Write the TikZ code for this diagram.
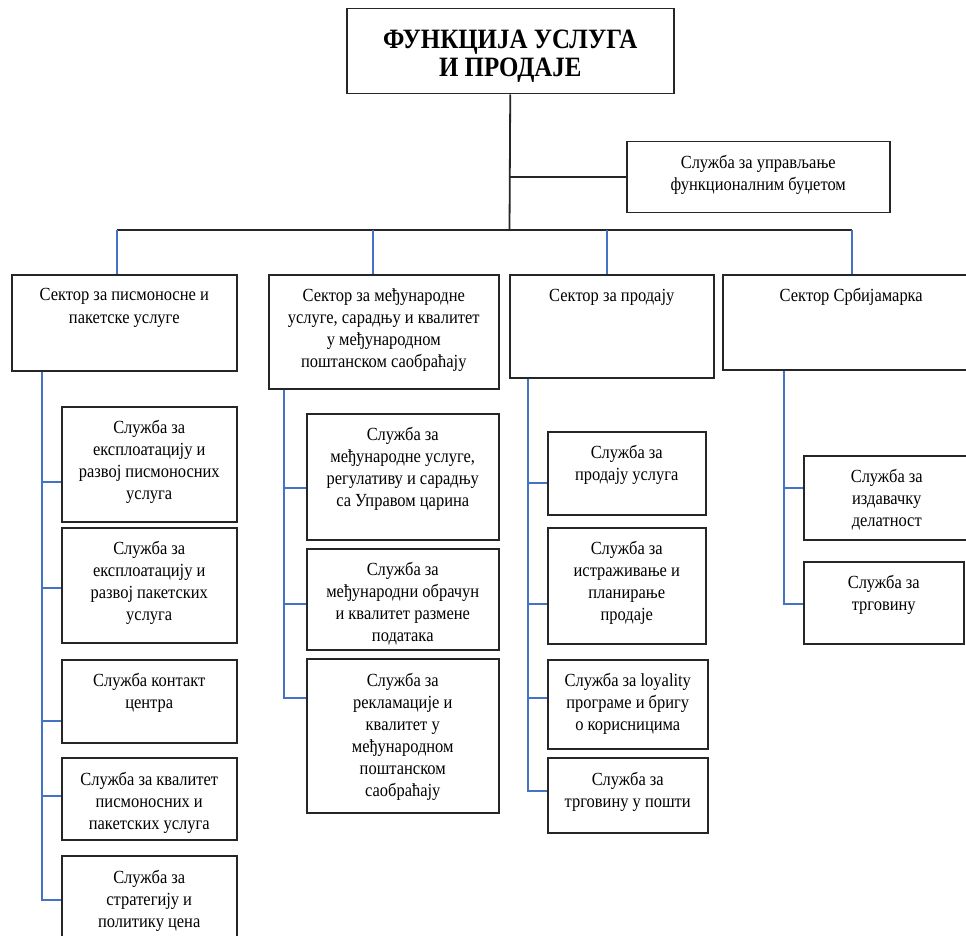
\documentclass[tikz,border=0pt]{standalone}
\usepackage{fontspec}
\setmainfont{Liberation Serif}[FakeStretch=0.89]
\usepackage{xcolor}
\usetikzlibrary{positioning}
\definecolor{linkblue}{HTML}{4472C4}
\newcommand{\cell}[4][14pt]{\parbox[c][#3][t]{#2}{\centering\vspace{#1}#4}}

\begin{document}
\begin{tikzpicture}[x=1pt, y=-1pt,
  box/.style={draw=black!85, line width=1.5pt, anchor=north west, inner sep=0pt,
              font=\fontsize{18.5}{22}\selectfont},
  head/.style={box, font=\fontsize{28}{28}\selectfont\bfseries},
  conn/.style={draw=black!85, line width=1.8pt},
  link/.style={draw=linkblue, line width=1.5pt}
]
  \useasboundingbox (0,0) rectangle (966,936);

  % top of the chart
  \node[head] (title) at (346,8) {\cell[21pt]{327pt}{85pt}{ФУНКЦИЈА УСЛУГА\\И ПРОДАЈЕ}};
  \node[box] (budget) at (626,141) {\cell{263pt}{71pt}{Служба за управљање\\функционалним буџетом}};

  % sectors
  \node[box] (s1) at (11,274)  {\cell{225pt}{96pt}{Сектор за писмоносне и\\пакетске услуге}};
  \node[box] (s2) at (268,274) {\cell{230pt}{114pt}{Сектор за међународне\\услуге, сарадњу и квалитет\\у међународном\\поштанском саобраћају}};
  \node[box] (s3) at (509,274) {\cell{204pt}{103pt}{Сектор за продају}};
  \node[box] (s4) at (722,274) {\cell{257pt}{95pt}{Сектор Србијамарка}};

  % services
  \node[box] (a) at (61,406) {\cell{175pt}{115pt}{Служба за\\експлоатацију и\\развој писмоносних\\услуга}};
  \node[box] (b) at (61,527) {\cell{175pt}{115pt}{Служба за\\експлоатацију и\\развој пакетских\\услуга}};
  \node[box] (c) at (61,659) {\cell{175pt}{83pt}{Служба контакт\\центра}};
  \node[box] (d) at (61,757) {\cell{175pt}{82pt}{Служба за квалитет\\писмоносних и\\пакетских услуга}};
  \node[box] (e) at (61,855) {\cell{175pt}{100pt}{Служба за\\стратегију и\\политику цена}};

  \node[box] (f) at (306,413) {\cell{192pt}{126pt}{Служба за\\међународне услуге,\\регулативу и сарадњу\\са Управом царина}};
  \node[box] (g) at (306,548) {\cell{192pt}{101pt}{Служба за\\међународни обрачун\\и квалитет размене\\података}};
  \node[box] (h) at (306,658) {\cell{192pt}{154pt}{Служба за\\рекламације и\\квалитет у\\међународном\\поштанском\\саобраћају}};

  \node[box] (i) at (547,431) {\cell{158pt}{83pt}{Служба за\\продају услуга}};
  \node[box] (j) at (547,527) {\cell{158pt}{116pt}{Служба за\\истраживање и\\планирање\\продаје}};
  \node[box] (k) at (547,659) {\cell{160pt}{89pt}{Служба за loyality\\програме и бригу\\о корисницима}};
  \node[box] (l) at (547,757) {\cell{160pt}{75pt}{Служба за\\трговину у пошти}};

  \node[box] (m) at (803,455) {\cell{166pt}{84pt}{Служба за\\издавачку\\делатност}};
  \node[box] (n) at (803,561) {\cell{160pt}{82pt}{Служба за\\трговину}};

  % connectors
  \coordinate (bus) at (509.5,230);
  \coordinate (d1) at (117,230); \coordinate (d2) at (373,230);
  \coordinate (d3) at (607,230); \coordinate (d4) at (852,230);
  \coordinate (c1) at (42,0);  \coordinate (c2) at (284,0);
  \coordinate (c3) at (528,0); \coordinate (c4) at (784,0);

  \draw[conn] (title.south) -- (bus);
  \draw[conn] (title.south |- budget.west) -- (budget.west);
  \draw[conn] (d1) -- (d4);
  \draw[link] (d1) -- (d1 |- s1.north); \draw[link] (d2) -- (d2 |- s2.north);
  \draw[link] (d3) -- (d3 |- s3.north); \draw[link] (d4) -- (d4 |- s4.north);

  \draw[link] (s1.south -| c1) |- ([yshift=-17.5pt]a.west); \draw[link] (s1.south -| c1) |- ([yshift=-2.5pt]b.west);
  \draw[link] (s1.south -| c1) |- ([yshift=-19.5pt]c.west); \draw[link] (s1.south -| c1) |- ([yshift=3pt]d.west);
  \draw[link] (s1.south -| c1) |- ([yshift=6pt]e.west);

  \draw[link] (s2.south -| c2) |- ([yshift=-11pt]f.west); \draw[link] (s2.south -| c2) |- ([yshift=-4.5pt]g.west);
  \draw[link] (s2.south -| c2) |- ([yshift=38pt]h.west);

  \draw[link] (s3.south -| c3) |- ([yshift=-9.5pt]i.west); \draw[link] (s3.south -| c3) |- ([yshift=-18pt]j.west);
  \draw[link] (s3.south -| c3) |- ([yshift=6.5pt]k.west); \draw[link] (s3.south -| c3) |- ([yshift=4.5pt]l.west);

  \draw[link] (s4.south -| c4) |- ([yshift=10pt]m.west); \draw[link] (s4.south -| c4) |- ([yshift=-1pt]n.west);
\end{tikzpicture}
\end{document}
